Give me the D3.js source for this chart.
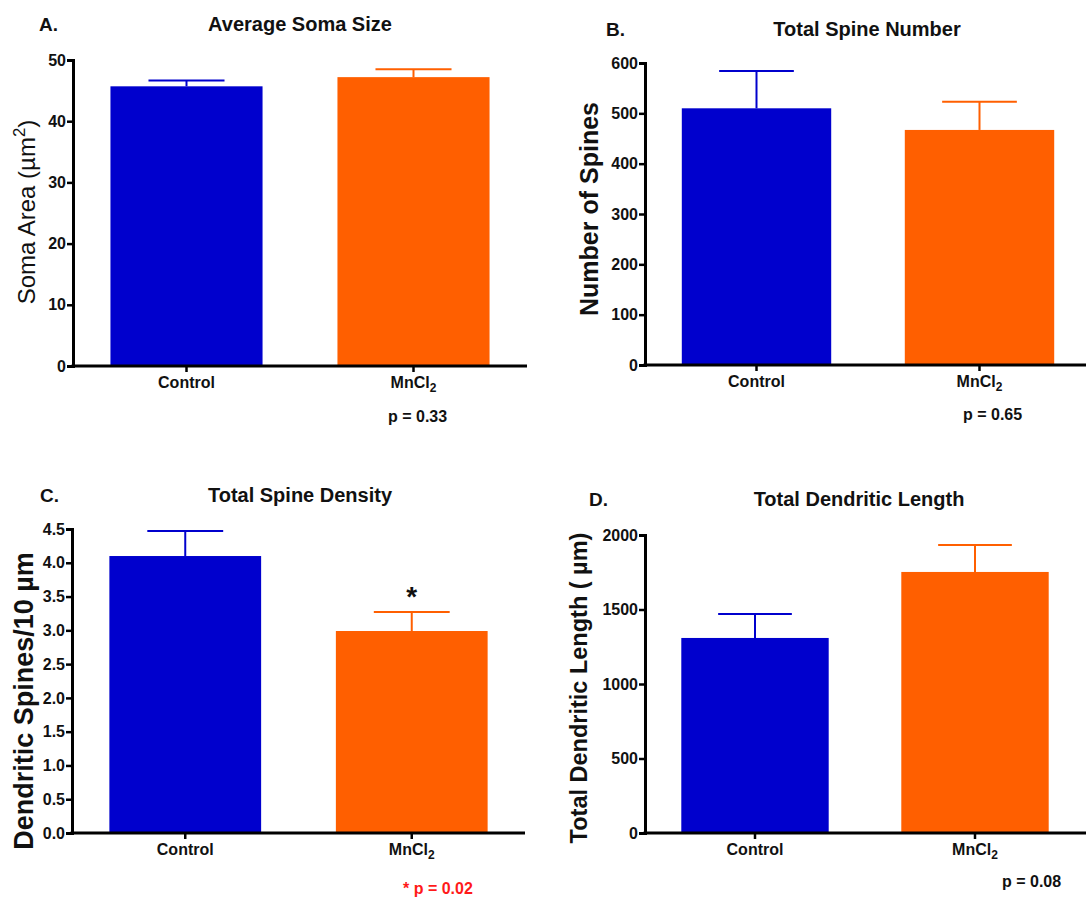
<!DOCTYPE html>
<html>
<head>
<meta charset="utf-8">
<script src="https://cdnjs.cloudflare.com/ajax/libs/d3/7.8.5/d3.min.js"></script>
<style>
  body { margin: 0; background: #fff; }
  svg { display: block; font-family: "Liberation Sans", Arial, sans-serif; }
</style>
</head>
<body>
<svg id="chart" width="1086" height="901"></svg>
<script>
'use strict';

// groups
const groups = ["Control", "MnCl2"];

// A. soma area (um^2)
const somaMean = [45.7, 47.2];
const somaSem = [0.95, 1.3];
const somaTicks = [0, 10, 20, 30, 40, 50];

// B. number of spines
const spineMean = [510, 467];
const spineSem = [74, 56];
const spineTicks = [0, 100, 200, 300, 400, 500, 600];

// C. spines / 10 um
const densityMean = [4.10, 2.99];
const densitySem = [0.37, 0.28];
const densityTicks = [0, 0.5, 1.0, 1.5, 2.0, 2.5, 3.0, 3.5, 4.0, 4.5];

// D. dendritic length (um)
const lengthMean = [1309, 1752];
const lengthSem = [161, 181];
const lengthTicks = [0, 500, 1000, 1500, 2000];

const pTexts = ["p = 0.33", "p = 0.65", "* p = 0.02", "p = 0.08"];

const colors = ["#0000cd", "#ff5f00"];
const FONT = "'Liberation Sans', Arial, sans-serif";

let svg = d3.select("#chart");

function drawPanel(cfg) {
    let g = svg.append("g");

    let x = d3.scaleBand()
        .domain(groups)
        .range([cfg.x0, cfg.x1])
        .paddingInner(0.33)
        .paddingOuter(0.165);

    let y = d3.scaleLinear()
        .domain([0, cfg.ticks[cfg.ticks.length - 1]])
        .range([cfg.yBottom, cfg.yTop]);

    let data = groups.map(function(k, i) {
        return {key: k, mean: cfg.mean[i], sem: cfg.sem[i], color: colors[i]};
    });

    // bars
    g.selectAll("rect.bar")
        .data(data)
        .enter().append("rect")
        .attr("class", "bar")
        .attr("x", function(d) { return x(d.key); })
        .attr("width", x.bandwidth())
        .attr("y", function(d) { return y(d.mean); })
        .attr("height", function(d) { return y(0) - y(d.mean); })
        .attr("fill", function(d) { return d.color; });

    // error bars (upper only)
    let eb = g.selectAll("g.err")
        .data(data)
        .enter().append("g")
        .attr("class", "err")
        .attr("stroke", function(d) { return d.color; })
        .attr("stroke-width", 2);
    eb.append("line")
        .attr("x1", function(d) { return x(d.key) + x.bandwidth() / 2; })
        .attr("x2", function(d) { return x(d.key) + x.bandwidth() / 2; })
        .attr("y1", function(d) { return y(d.mean); })
        .attr("y2", function(d) { return y(d.mean + d.sem); });
    eb.append("line")
        .attr("x1", function(d) { return x(d.key) + x.bandwidth() / 4; })
        .attr("x2", function(d) { return x(d.key) + x.bandwidth() * 3 / 4; })
        .attr("y1", function(d) { return y(d.mean + d.sem); })
        .attr("y2", function(d) { return y(d.mean + d.sem); });

    // y axis
    let yAxis = g.append("g")
        .attr("transform", "translate(" + cfg.x0 + ",0)")
        .call(d3.axisLeft(y).tickValues(cfg.ticks).tickFormat(cfg.fmt).tickSizeOuter(0).tickSize(6).tickPadding(1));
    yAxis.select(".domain").attr("stroke-width", 3).attr("stroke", "#000");
    yAxis.selectAll(".tick line").attr("stroke-width", 2.5).attr("stroke", "#000");
    yAxis.selectAll(".tick text")
        .attr("font-size", 16).attr("font-weight", "bold").attr("fill", "#111")
        .attr("font-family", FONT);

    // x axis
    let xAxis = g.append("g")
        .attr("transform", "translate(0," + cfg.yBottom + ")")
        .call(d3.axisBottom(x).tickSizeOuter(0).tickSize(6).tickPadding(5));
    xAxis.select(".domain").attr("stroke-width", 3).attr("stroke", "#000")
        .attr("d", "M" + (cfg.x0 - 1.5) + ",0H" + cfg.xEnd);
    xAxis.selectAll(".tick line").attr("stroke-width", 2.5).attr("stroke", "#000");
    xAxis.selectAll(".tick text")
        .attr("font-size", 16).attr("font-weight", "bold").attr("fill", "#111")
        .attr("font-family", FONT)
        .each(function(d) {
            if (d === "MnCl2") {
                let t = d3.select(this).text("");
                t.append("tspan").text("MnCl");
                t.append("tspan").text("2").attr("font-size", 12).attr("dy", 4);
            }
        });

    // letter + title
    g.append("text")
        .attr("x", cfg.letterX).attr("y", cfg.titleY)
        .attr("font-size", 19).attr("font-weight", "bold").attr("fill", "#111")
        .text(cfg.letter);
    g.append("text")
        .attr("x", cfg.titleX).attr("y", cfg.titleY)
        .attr("text-anchor", "middle")
        .attr("font-size", 20).attr("font-weight", "bold").attr("fill", "#111")
        .text(cfg.title);

    // y label
    let yl = g.append("text")
        .attr("transform", "translate(" + cfg.labelX + "," + cfg.labelY + ") rotate(-90)")
        .attr("text-anchor", "middle")
        .attr("font-size", cfg.labelSize)
        .attr("font-weight", cfg.labelWeight)
        .attr("fill", "#111");
    cfg.label.forEach(function(part) {
        let ts = yl.append("tspan").text(part.t);
        if (part.sup) ts.attr("font-size", cfg.labelSize * 0.7).attr("dy", -10);
        if (part.after) ts.attr("dy", 10);
    });

    // p value
    g.append("text")
        .attr("x", cfg.pX).attr("y", cfg.pY)
        .attr("font-size", 16).attr("font-weight", "bold")
        .attr("fill", cfg.pColor)
        .text(cfg.p);

    if (cfg.star) {
        g.append("text")
            .attr("x", x("MnCl2") + x.bandwidth() / 2)
            .attr("y", y(cfg.mean[1] + cfg.sem[1]) - 6)
            .attr("text-anchor", "middle")
            .attr("font-size", 28).attr("font-weight", "bold").attr("fill", "#111")
            .text("*");
    }
}

drawPanel({
    letter: "A.", title: "Average Soma Size",
    letterX: 39, titleX: 300, titleY: 31,
    x0: 73, x1: 527, xEnd: 527, yTop: 60, yBottom: 366,
    mean: somaMean, sem: somaSem, ticks: somaTicks, fmt: d3.format("d"),
    label: [{t: "Soma Area (\u00b5m"}, {t: "2", sup: true}, {t: ")", after: true}],
    labelX: 35, labelY: 212, labelSize: 24, labelWeight: "normal",
    p: pTexts[0], pX: 388, pY: 422, pColor: "#111"
});

drawPanel({
    letter: "B.", title: "Total Spine Number",
    letterX: 606, titleX: 867, titleY: 36,
    x0: 645, x1: 1091, xEnd: 1091, yTop: 63, yBottom: 365,
    mean: spineMean, sem: spineSem, ticks: spineTicks, fmt: d3.format("d"),
    label: [{t: "Number of Spines"}],
    labelX: 598, labelY: 209, labelSize: 25, labelWeight: "bold",
    p: pTexts[1], pX: 963, pY: 420, pColor: "#111"
});

drawPanel({
    letter: "C.", title: "Total Spine Density",
    letterX: 40, titleX: 300, titleY: 502,
    x0: 72, x1: 525, xEnd: 525, yTop: 529, yBottom: 833,
    mean: densityMean, sem: densitySem, ticks: densityTicks, fmt: d3.format(".1f"),
    label: [{t: "Dendritic Spines/10  \u00b5m"}],
    labelX: 33, labelY: 701, labelSize: 27, labelWeight: "bold",
    p: pTexts[2], pX: 403, pY: 894, pColor: "#ff1a1a", star: true
});

drawPanel({
    letter: "D.", title: "Total Dendritic Length",
    letterX: 589, titleX: 859, titleY: 506,
    x0: 645, x1: 1085, xEnd: 1086, yTop: 535, yBottom: 833,
    mean: lengthMean, sem: lengthSem, ticks: lengthTicks, fmt: d3.format("d"),
    label: [{t: "Total  Dendritic Length ( \u00b5m)"}],
    labelX: 587, labelY: 688, labelSize: 23.5, labelWeight: "bold",
    p: pTexts[3], pX: 1002, pY: 887, pColor: "#111"
});
</script>
</body>
</html>
